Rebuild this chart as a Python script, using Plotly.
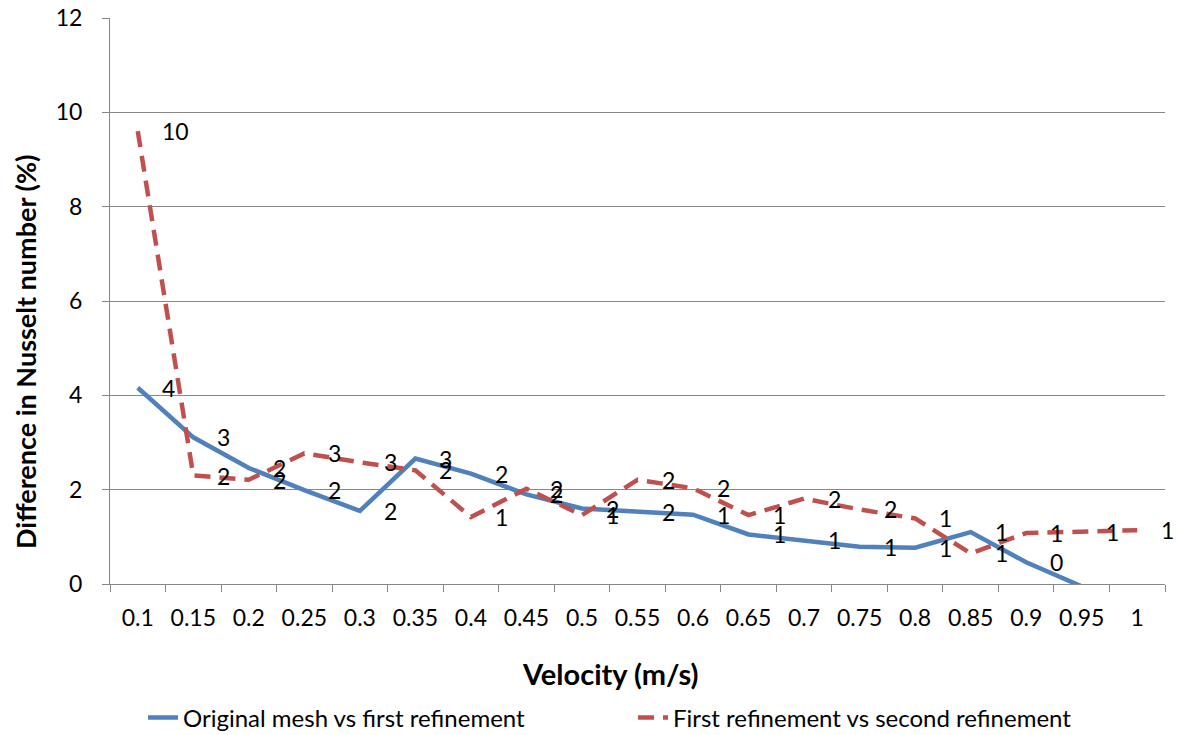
import math
import plotly.graph_objects as go

velocity = ["0.1", "0.15", "0.2", "0.25", "0.3", "0.35", "0.4", "0.45", "0.5", "0.55",
            "0.6", "0.65", "0.7", "0.75", "0.8", "0.85", "0.9", "0.95", "1"]
original_vs_first = [4.16, 3.11, 2.46, 1.99, 1.55, 2.66, 2.34, 1.90, 1.60, 1.53,
                     1.47, 1.05, 0.93, 0.79, 0.77, 1.10, 0.46, -0.05, None]
first_vs_second = [9.6, 2.30, 2.21, 2.77, 2.58, 2.41, 1.42, 2.02, 1.46, 2.21,
                   2.03, 1.46, 1.81, 1.58, 1.39, 0.65, 1.08, 1.10, 1.14]

BLUE = "#4F81BD"
RED = "#C0504D"
GRID = "#878787"
FONT = "Lato"

L, R, T, B = 110, 17, 18, 151
W, H = 1182, 735
PW, PH = W - L - R, H - T - B


def px_x(p):
    return (p - L) / PW


def px_y(p):
    return (H - B - p) / PH


fig = go.Figure()
fig.add_trace(go.Scatter(x=velocity, y=original_vs_first, mode="lines",
                         name="Original mesh vs first refinement",
                         line=dict(color=BLUE, width=4.5)))
fig.add_trace(go.Scatter(x=velocity, y=first_vs_second, mode="lines",
                         name="First refinement vs second refinement",
                         line=dict(color=RED, width=4.5, dash="16px,9px")))

annotations = []
for series in (original_vs_first, first_vs_second):
    for i, v in enumerate(series):
        if v is None or v < 0 or v > 12:
            continue
        annotations.append(dict(x=i, y=v, xref="x", yref="y",
                                text=str(int(math.floor(v + 0.5))),
                                showarrow=False, xanchor="left", yanchor="middle",
                                xshift=22, font=dict(family=FONT, size=23, color="black")))

annotations.append(dict(text="<b>Difference in Nusselt number (%)</b>", xref="paper", yref="paper",
                        x=px_x(25), y=px_y(352), textangle=-90, showarrow=False,
                        xanchor="center", yanchor="middle",
                        font=dict(family=FONT, size=27, color="black")))
annotations.append(dict(text="<b>Velocity (m/s)</b>", xref="paper", yref="paper",
                        x=px_x(610), y=px_y(673), showarrow=False,
                        xanchor="center", yanchor="middle",
                        font=dict(family=FONT, size=29, color="black")))

fig.update_layout(
    width=W, height=H,
    margin=dict(l=L, r=R, t=T, b=B, autoexpand=False),
    paper_bgcolor="white", plot_bgcolor="white",
    font=dict(family=FONT, size=23, color="black"),
    annotations=annotations,
    showlegend=True,
    legend=dict(orientation="h", x=px_x(143), y=px_y(718), xanchor="left", yanchor="middle",
                font=dict(family=FONT, size=24), bgcolor="rgba(0,0,0,0)",
                entrywidth=445, entrywidthmode="pixels"),
)
fig.update_xaxes(type="category", range=[-0.5, len(velocity) - 0.5], showgrid=False,
                 showline=True, linecolor=GRID, linewidth=1,
                 ticks="outside", tickson="boundaries", ticklen=7, tickcolor=GRID,
                 tickfont=dict(family=FONT, size=23), ticklabelstandoff=13, zeroline=False)
fig.update_yaxes(range=[0, 12], dtick=2, showgrid=True, gridcolor=GRID, gridwidth=1,
                 showline=True, linecolor=GRID, linewidth=1, ticks="outside", ticklen=7,
                 tickcolor=GRID, tickfont=dict(family=FONT, size=23), zeroline=False,
                 ticklabelstandoff=15)

fig.write_html("out.html")
